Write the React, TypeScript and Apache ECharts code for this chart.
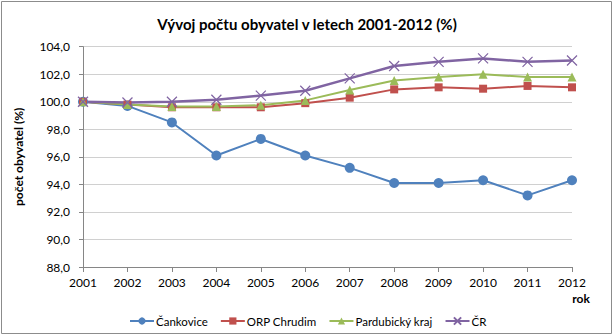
import React, { useEffect, useRef } from "react";
import * as echarts from "echarts";

const years = ["2001", "2002", "2003", "2004", "2005", "2006", "2007", "2008", "2009", "2010", "2011", "2012"];
const cankovice = [100.0, 99.7, 98.5, 96.1, 97.3, 96.1, 95.2, 94.1, 94.1, 94.3, 93.2, 94.3];
const orpChrudim = [100.0, 99.8, 99.6, 99.6, 99.6, 99.9, 100.3, 100.9, 101.05, 100.95, 101.15, 101.05];
const pardubicky = [100.0, 99.8, 99.65, 99.65, 99.75, 100.1, 100.85, 101.55, 101.8, 102.0, 101.8, 101.8];
const cr = [100.0, 99.95, 100.0, 100.15, 100.45, 100.8, 101.7, 102.6, 102.9, 103.15, 102.9, 103.0];
const seriesNames = ["Čankovice", "ORP Chrudim", "Pardubický kraj", "ČR"];

const FONT = "Lato, 'Open Sans', sans-serif";

export default function App() {
  const ref = useRef<HTMLDivElement>(null);
  useEffect(() => {
    if (!ref.current) return;
    const chart = echarts.init(ref.current, undefined, { renderer: "svg" });
    const crossPath = "path://M0,0L10,10M10,0L0,10";
    chart.setOption({
      animation: false,
      backgroundColor: "#fff",
      textStyle: { fontFamily: FONT },
      title: {
        text: "Vývoj počtu obyvatel v letech 2001-2012 (%)",
        left: "center",
        top: 11,
        textStyle: { fontFamily: FONT, fontSize: 15, fontWeight: "bold", color: "#000" },
      },
      grid: { left: 83, right: 42, top: 46.7, bottom: 69, containLabel: false },
      legend: {
        left: 124,
        top: 310,
        itemGap: 12,
        itemWidth: 24,
        itemHeight: 9,
        textStyle: { fontFamily: FONT, fontSize: 11.5, color: "#000", padding: [0, 0, 0, -3] },
        data: seriesNames,
      },
      xAxis: {
        type: "category",
        data: years,
        boundaryGap: false,
        axisLine: { lineStyle: { color: "#868686" } },
        axisTick: { show: true, alignWithLabel: true, length: 5, lineStyle: { color: "#868686" } },
        axisLabel: { color: "#000", fontSize: 12, margin: 9, fontFamily: FONT },
        splitLine: { show: false },
      },
      yAxis: {
        type: "value",
        min: 88,
        max: 104,
        interval: 2,
        name: "počet obyvatel (%)",
        nameLocation: "middle",
        nameGap: 59,
        nameTextStyle: { fontFamily: FONT, fontSize: 12, fontWeight: "bold", color: "#000" },
        axisLine: { show: true, lineStyle: { color: "#868686" } },
        axisTick: { show: true, length: 4, lineStyle: { color: "#868686" } },
        axisLabel: {
          color: "#000",
          fontSize: 12,
          margin: 13,
          fontFamily: FONT,
          formatter: (v: number) => v.toFixed(1).replace(".", ","),
        },
        splitLine: { lineStyle: { color: "#D0D0D0" } },
      },
      graphic: [
        {
          type: "rect",
          shape: { x: 1.5, y: 1.5, width: 610, height: 332 },
          style: { fill: "none", stroke: "#8c8c8c", lineWidth: 1 },
          silent: true,
        },
        {
          type: "text",
          x: 581,
          y: 298,
          style: {
            text: "rok",
            fontFamily: FONT,
            fontSize: 12,
            fontWeight: "bold",
            fill: "#000",
            align: "center",
            verticalAlign: "middle",
          },
        },
      ],
      series: [
        {
          name: seriesNames[0],
          type: "line",
          data: cankovice,
          symbol: "circle",
          symbolSize: 10,
          lineStyle: { color: "#4F81BD", width: 2 },
          itemStyle: { color: "#4F81BD" },
        },
        {
          name: seriesNames[1],
          type: "line",
          data: orpChrudim,
          symbol: "rect",
          symbolSize: 8,
          lineStyle: { color: "#C0504D", width: 2 },
          itemStyle: { color: "#C0504D" },
        },
        {
          name: seriesNames[2],
          type: "line",
          data: pardubicky,
          symbol: "triangle",
          symbolSize: 9,
          lineStyle: { color: "#9BBB59", width: 2 },
          itemStyle: { color: "#9BBB59" },
        },
        {
          name: seriesNames[3],
          type: "line",
          data: cr,
          symbol: crossPath,
          symbolSize: 10,
          lineStyle: { color: "#8064A2", width: 2.5 },
          itemStyle: { color: "#8064A2", borderColor: "#8064A2", borderWidth: 1.2 },
        },
      ],
    });
    return () => chart.dispose();
  }, []);
  return (
    <div
      ref={ref}
      style={{ position: "fixed", left: 0, top: 0, width: 614, height: 336 }}
    />
  );
}
